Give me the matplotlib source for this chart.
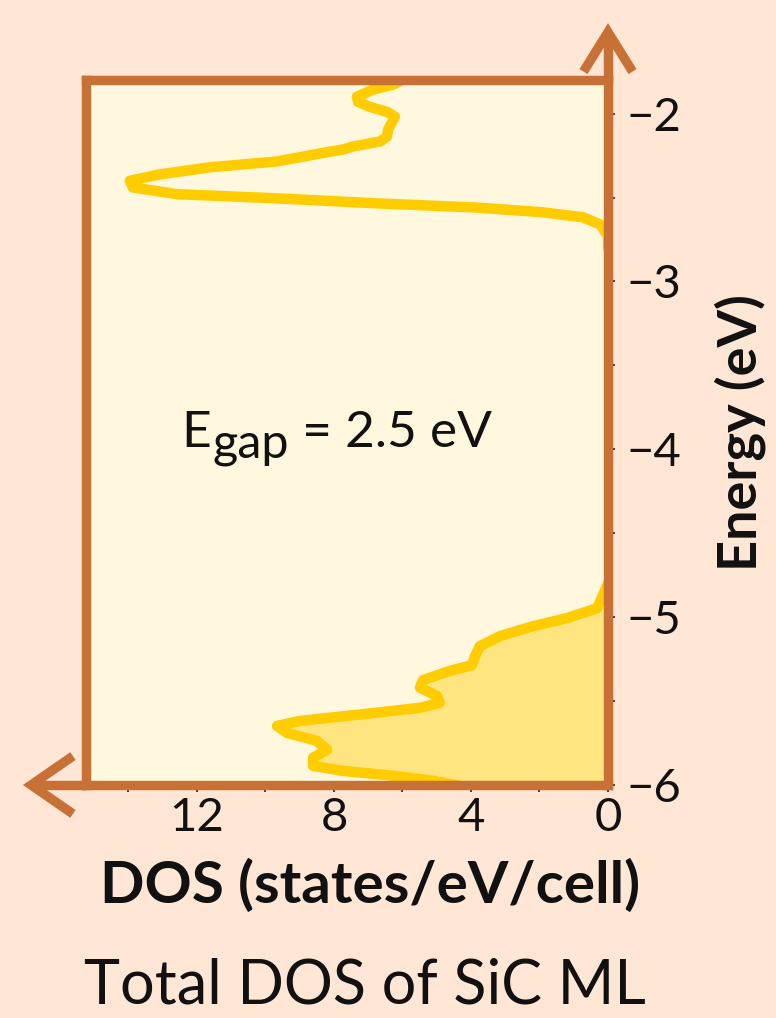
import matplotlib
matplotlib.use('Agg')
import matplotlib.pyplot as plt

# Lato stands in for the rounded sans of the original
plt.rcParams['font.family'] = ['Lato', 'DejaVu Sans']
plt.rcParams['axes.unicode_minus'] = True

# conduction band (top part of the window)
cb_energy = [-1.78, -1.828, -1.857, -1.90, -1.93, -1.96, -1.99, -2.018, -2.053,
             -2.095, -2.137, -2.166, -2.196, -2.214, -2.23, -2.285, -2.32, -2.362,
             -2.40, -2.44, -2.48, -2.505, -2.535, -2.56, -2.588, -2.618, -2.66,
             -2.73, -2.80]
cb_dos = [5.8, 6.28, 6.86, 7.33, 7.30, 6.95, 6.45, 6.22, 6.31,
          6.42, 6.45, 6.65, 7.44, 7.74, 8.2, 9.66, 11.62, 13.08,
          13.96, 13.87, 12.58, 9.66, 6.74, 3.82, 1.9, 0.73, 0.23,
          0.0, 0.0]

# valence band (bottom part, filled)
vb_energy = [-4.80, -4.87, -4.947, -5.006, -5.054, -5.113, -5.173, -5.232, -5.286,
             -5.32, -5.375, -5.42, -5.47, -5.51, -5.54, -5.58, -5.618, -5.648,
             -5.69, -5.737, -5.79, -5.838, -5.886, -5.916, -5.945, -5.975, -6.05]
vb_dos = [0.0, 0.15, 0.32, 1.2, 2.19, 3.15, 3.74, 3.88, 3.97,
          4.61, 5.40, 5.49, 4.99, 4.91, 5.49, 7.24, 8.99, 9.66,
          9.37, 8.50, 8.20, 8.61, 8.61, 7.74, 6.28, 5.11, 3.2]

x_major = [0, 4, 8, 12]
x_minor = [2, 6, 10, 14]
y_major = [-6, -5, -4, -3, -2]
y_minor = [-5.5, -4.5, -3.5, -2.5]

BG = '#ffe6d5'
PANEL = '#fff7de'
SPINE = '#c87137'
LINE = '#ffcc00'
FILL = '#ffe57f'
INK = '#111111'

fig = plt.figure(figsize=(7.76, 10.18), dpi=100, facecolor=BG)
ax = fig.add_axes([0.1108, 0.2289, 0.6727, 0.6925])
ax.set_facecolor(PANEL)

ax.fill_betweenx(vb_energy, 0, vb_dos, color=FILL, lw=0, zorder=1)
ax.plot(vb_dos, vb_energy, color=LINE, lw=7.5, solid_joinstyle='round',
        solid_capstyle='round', zorder=2)
ax.plot(cb_dos, cb_energy, color=LINE, lw=7.5, solid_joinstyle='round',
        solid_capstyle='round', zorder=2)

ax.set_xlim(15.24, 0)
ax.set_ylim(-6, -1.8)

ax.set_xticks(x_major)
ax.set_xticks(x_minor, minor=True)
ax.set_yticks(y_major)
ax.set_yticks(y_minor, minor=True)
ax.set_xticklabels([str(v) for v in x_major])

ax.yaxis.tick_right()
ax.yaxis.set_label_position('right')
ax.tick_params(which='both', direction='out', length=5, width=1.2, color='#222222',
               labelcolor=INK)
ax.tick_params(axis='y', which='both', left=False, right=True, labelsize=34, pad=8)
ax.tick_params(axis='x', which='both', labelsize=34, pad=4)

for s in ax.spines.values():
    s.set_color(SPINE)
    s.set_linewidth(6.8)
    s.set_zorder(3)

# arrow heads continuing the right and bottom spines
ax.plot([1, 1], [1, 1.068], transform=ax.transAxes, color=SPINE, lw=6.8,
        clip_on=False, solid_capstyle='butt', zorder=4)
ax.plot([0.953, 1, 1.047], [1.012, 1.068, 1.012], transform=ax.transAxes,
        color=SPINE, lw=6.8, clip_on=False, solid_joinstyle='miter',
        solid_capstyle='butt', zorder=4)
ax.plot([0, -0.105], [0, 0], transform=ax.transAxes, color=SPINE, lw=6.8,
        clip_on=False, solid_capstyle='butt', zorder=4)
ax.plot([-0.025, -0.105, -0.025], [0.041, 0, -0.041], transform=ax.transAxes,
        color=SPINE, lw=6.8, clip_on=False, solid_joinstyle='miter',
        solid_capstyle='butt', zorder=4)

# band gap note: "gap" set a little lower than the E, same size
t_e = ax.text(0.183, 0.479, 'E', transform=ax.transAxes, ha='left', va='baseline',
              fontsize=37, color=INK)
t_g = ax.annotate('gap', xy=(1, 0), xycoords=t_e, xytext=(1, -10),
                  textcoords='offset pixels', ha='left', va='bottom',
                  fontsize=35, color=INK)
ax.annotate(' = 2.5 eV', xy=(1, 0), xycoords=t_g, xytext=(0, 10),
            textcoords='offset pixels', ha='left', va='bottom',
            fontsize=37, color=INK)

ax.set_xlabel('DOS (states/eV/cell)', fontsize=42, fontweight='bold', color=INK)
ax.xaxis.set_label_coords(0.544, -0.105)
ax.set_ylabel('Energy (eV)', fontsize=39, fontweight='bold', labelpad=24, color=INK)

fig.text(0.47, 0.031, 'Total DOS of SiC ML', ha='center', va='center', fontsize=44,
         color=INK)

fig.savefig('out.png', dpi=100, facecolor=BG)
